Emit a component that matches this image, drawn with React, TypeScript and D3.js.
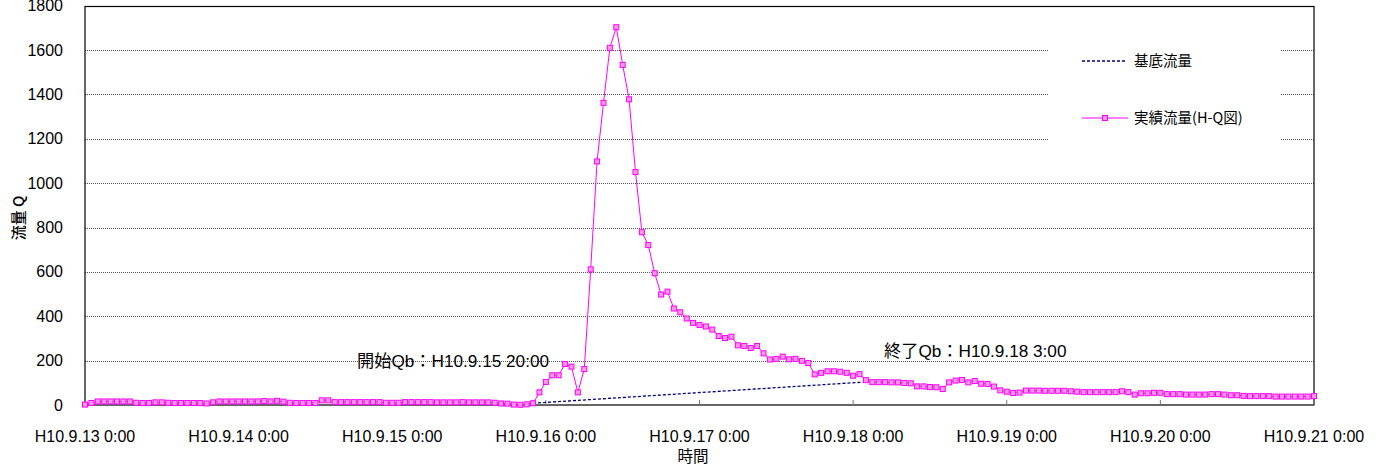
import React from "react";
import * as d3 from "d3";

// ---- data (hourly, from H10.9.13 0:00) ----
const day1 = [2, 9, 16, 16, 16, 16, 16, 16, 10, 9, 9, 12, 12, 10, 9, 9, 9, 9, 9, 7, 12, 16, 16, 16];
const day2 = [16, 16, 16, 16, 18, 16, 19, 15, 10, 9, 9, 9, 9, 21, 21, 13, 13, 13, 13, 13, 13, 13, 13, 10];
const day3 = [10, 10, 13, 13, 13, 13, 13, 12, 12, 12, 12, 13, 12, 12, 12, 12, 10, 7, 6, 2, 1, 3, 8, 57];
const day4 = [104, 134, 134, 185, 173, 57, 162, 611, 1098, 1362, 1610, 1703, 1533, 1378, 1050, 779, 721, 594, 498, 511, 435, 418, 390, 370];
const day5 = [361, 354, 340, 311, 302, 308, 269, 266, 257, 266, 233, 205, 208, 218, 206, 208, 199, 189, 138, 145, 152, 152, 150, 145];
const day6 = [132, 139, 112, 103, 103, 103, 102, 102, 99, 98, 84, 84, 81, 80, 72, 102, 110, 113, 102, 108, 96, 95, 83, 66];
const day7 = [60, 54, 56, 65, 65, 65, 64, 64, 64, 64, 62, 60, 58, 58, 58, 58, 58, 58, 62, 58, 47, 53, 53, 55];
const day8 = [55, 49, 49, 49, 47, 47, 47, 47, 49, 49, 47, 44, 44, 41, 40, 40, 40, 40, 38, 38, 38, 38, 38, 38];
const lastValue = [40];
const actualFlow = [...day1, ...day2, ...day3, ...day4, ...day5, ...day6, ...day7, ...day8, ...lastValue];

// base flow: start (開始Qb) and end (終了Qb) points, hour index / value
const baseHours = [70, 121.5];
const baseValues = [8, 103];

const xTickLabels = [
  "H10.9.13 0:00", "H10.9.14 0:00", "H10.9.15 0:00", "H10.9.16 0:00", "H10.9.17 0:00",
  "H10.9.18 0:00", "H10.9.19 0:00", "H10.9.20 0:00", "H10.9.21 0:00",
];
const yTicks = [0, 200, 400, 600, 800, 1000, 1200, 1400, 1600, 1800];

const seriesNames = ["基底流量", "実績流量(H-Q図)"];
const annStart = "開始Qb：H10.9.15 20:00";
const annEnd = "終了Qb：H10.9.18 3:00";

const W = 1381, H = 468;
const L = 85, R = 1314, T = 5.7, B = 405;
const LATIN = "'Liberation Sans', Arial, 'Noto Sans CJK JP', sans-serif";
const JP = "'Noto Sans CJK JP', 'Liberation Sans', sans-serif";

export default function App() {
  const x = d3.scaleLinear().domain([0, 192]).range([L, R]);
  const y = d3.scaleLinear().domain([0, 1800]).range([B, T]);

  const line = d3.line<number>().x((_, i) => x(i)).y((d) => y(d));
  const baseLine = d3.line<number>().x((_, i) => x(baseHours[i])).y((d) => y(d));

  return (
    <div style={{ position: "absolute", left: 0, top: 0 }}>
      <svg width={W} height={H} style={{ display: "block", background: "#fff" }}>
        {/* gridlines */}
        {yTicks.filter((t) => t > 0 && t < 1800).map((t) => (
          <line key={t} x1={L} x2={R} y1={Math.round(y(t)) + 0.5} y2={Math.round(y(t)) + 0.5}
            stroke="#555" strokeWidth={1} strokeDasharray="1,1" />
        ))}
        {/* legend background covering gridlines */}
        <rect x={1048} y={28} width={232} height={142} fill="#fff" />
        {/* frame */}
        <rect x={L} y={Math.round(T) + 0.5} width={R - L} height={B - Math.round(T) - 0.5} fill="none" stroke="#000" strokeWidth={1.2} />
        {/* x ticks (inside) */}
        {xTickLabels.map((lab, i) => (
          <g key={lab}>
            <line x1={x(i * 24)} x2={x(i * 24)} y1={B} y2={B - 5} stroke="#777" strokeWidth={1} />
            <text x={x(i * 24)} y={441.5} textAnchor="middle" fontFamily={LATIN} fontSize={16} fill="#000">{lab}</text>
          </g>
        ))}
        {/* y tick labels */}
        {yTicks.map((t) => (
          <text key={t} x={63} y={y(t) + 5.5} textAnchor="end" fontFamily={LATIN} fontSize={16} fill="#000">{t}</text>
        ))}
        {/* axis titles */}
        <text transform="translate(24,218) rotate(-90)" textAnchor="middle" fontFamily={JP} fontSize={15} fontWeight={500} fill="#000">流量 Q</text>
        <text x={693} y={462} textAnchor="middle" fontFamily={JP} fontSize={15.5} fill="#000">時間</text>

        {/* base flow */}
        <path d={baseLine(baseValues) || ""} fill="none" stroke="#000080" strokeWidth={1.3} strokeDasharray="3,2" />
        {/* actual flow */}
        <path d={line(actualFlow) || ""} fill="none" stroke="#ff00ff" strokeWidth={1} />
        {actualFlow.map((v, i) => (
          <rect key={i} x={x(i) - 2.5} y={y(v) - 2.5} width={5} height={5} fill="#ff99dd" stroke="#ff00ff" strokeWidth={1} />
        ))}

        {/* annotations */}
        <text x={357} y={367} fontFamily={LATIN} fontSize={17.2} fill="#000">{annStart}</text>
        <text x={884} y={357} fontFamily={LATIN} fontSize={17.2} fill="#000">{annEnd}</text>

        {/* legend */}
        <line x1={1082} x2={1127} y1={61} y2={61} stroke="#000080" strokeWidth={1.3} strokeDasharray="3,2" />
        <text x={1134} y={66} fontFamily={JP} fontSize={14.5} fill="#000">{seriesNames[0]}</text>
        <line x1={1082} x2={1128} y1={118} y2={118} stroke="#ff00ff" strokeWidth={1} />
        <rect x={1102.5} y={115.5} width={5} height={5} fill="#ff99dd" stroke="#ff00ff" strokeWidth={1} />
        <text x={1134} y={123} fontFamily={JP} fontSize={14.5} fill="#000">{seriesNames[1]}</text>
      </svg>
    </div>
  );
}
